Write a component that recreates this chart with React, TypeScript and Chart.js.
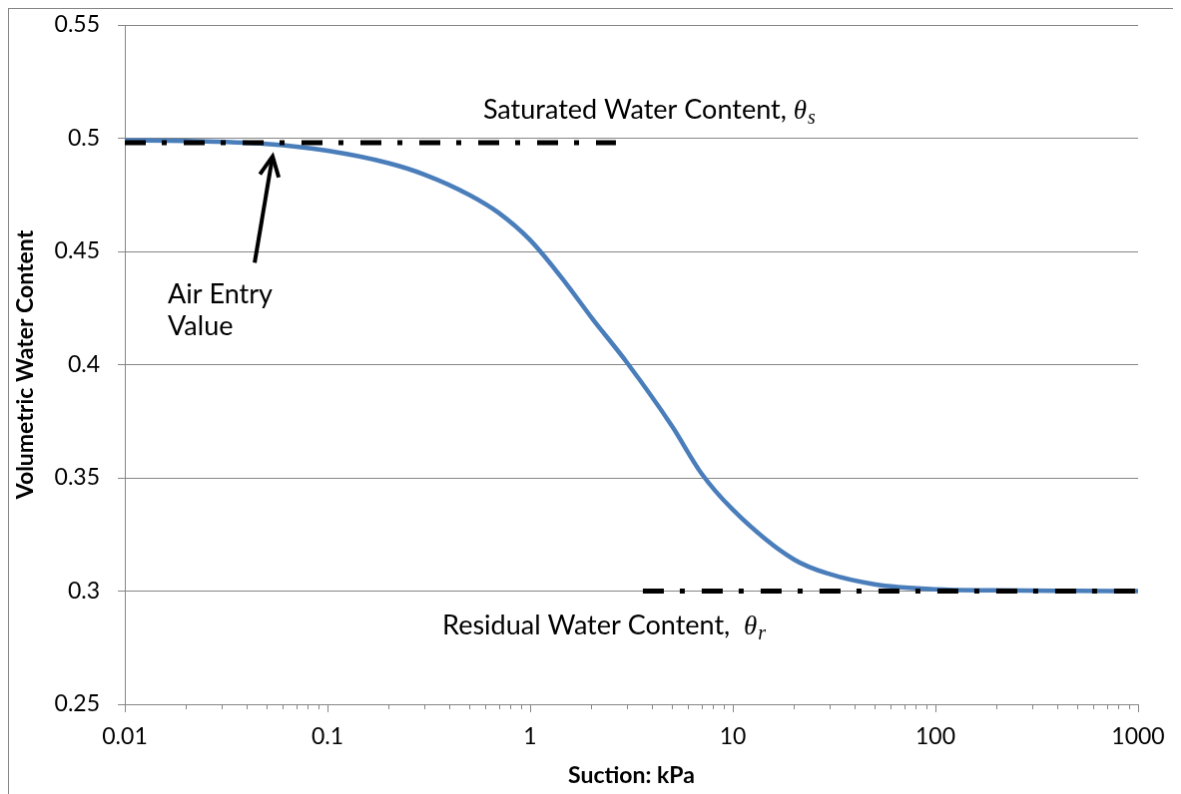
import React, { useEffect, useRef } from "react";
import { Chart, registerables } from "chart.js";

Chart.register(...registerables);

// ---- Data ----
const suction = [0.01, 0.02, 0.05, 0.1, 0.2, 0.3, 0.5, 0.7, 1, 1.5, 2, 3, 5, 7, 10, 20, 30, 50, 100, 200, 500, 1000];
const waterContent = [0.499, 0.4988, 0.4975, 0.4945, 0.489, 0.484, 0.475, 0.467, 0.455, 0.436, 0.421, 0.401, 0.373, 0.352, 0.336, 0.314, 0.3075, 0.303, 0.3008, 0.3003, 0.3001, 0.3];

const saturatedX = [0.01, 2.65];
const saturatedY = [0.498, 0.498];
const residualX = [3.6, 1000];
const residualY = [0.3, 0.3];

const xTickValues = [0.01, 0.1, 1, 10, 100, 1000];
const xTickLabels = ["0.01", "0.1", "1", "10", "100", "1000"];
const yTickValues = [0.25, 0.3, 0.35, 0.4, 0.45, 0.5, 0.55];
const yTickLabels = ["0.25", "0.3", "0.35", "0.4", "0.45", "0.5", "0.55"];

// annotation anchors (data coordinates)
const arrowTail = { x: 0.0437, y: 0.445 };
const arrowHead = { x: 0.0536, y: 0.492 };
const saturatedLabelPos = { x: 0.586, y: 0.5088 };
const residualLabelPos = { x: 0.369, y: 0.281 };
const airEntryPos = { x: 0.0163, y: 0.4273 };
const airEntryLine2 = { x: 0.0163, y: 0.4128 };

const GRAY = "#868686";
const BLUE = "#4a7ebb";
const FONT = "Lato, 'Open Sans', sans-serif";

function drawThetaLabel(ctx: CanvasRenderingContext2D, text: string, sub: string, x: number, y: number) {
  ctx.font = `27px ${FONT}`;
  ctx.fillStyle = "#000";
  ctx.textAlign = "left";
  ctx.textBaseline = "alphabetic";
  ctx.fillText(text, x, y);
  let cx = x + ctx.measureText(text).width;
  ctx.font = `italic 27px 'Liberation Serif', 'DejaVu Serif', serif`;
  ctx.fillText("θ", cx, y);
  cx += ctx.measureText("θ").width + 1;
  ctx.font = `italic 20px 'Liberation Serif', 'DejaVu Serif', serif`;
  ctx.fillText(sub, cx, y + 5);
}

const annotationPlugin = {
  id: "swccAnnotations",
  afterDraw(chart: any) {
    const { ctx, chartArea } = chart;
    const xs = chart.scales.x;
    const ys = chart.scales.y;
    ctx.save();
    // x-axis tick marks (major + minor log ticks)
    ctx.strokeStyle = GRAY;
    ctx.lineWidth = 1;
    for (let i = 0; i < xTickValues.length; i++) {
      const base = xTickValues[i];
      const px = Math.round(xs.getPixelForValue(base)) + 0.5;
      ctx.beginPath();
      ctx.moveTo(px, chartArea.bottom);
      ctx.lineTo(px, chartArea.bottom + 8);
      ctx.stroke();
      if (i < xTickValues.length - 1) {
        for (let m = 2; m <= 9; m++) {
          const mx = Math.round(xs.getPixelForValue(base * m)) + 0.5;
          ctx.beginPath();
          ctx.moveTo(mx, chartArea.bottom);
          ctx.lineTo(mx, chartArea.bottom + 5);
          ctx.stroke();
        }
      }
    }
    // arrow
    const tx = xs.getPixelForValue(arrowTail.x);
    const ty = ys.getPixelForValue(arrowTail.y);
    const hx = xs.getPixelForValue(arrowHead.x);
    const hy = ys.getPixelForValue(arrowHead.y);
    ctx.strokeStyle = "#000";
    ctx.lineWidth = 4;
    ctx.lineCap = "butt";
    ctx.beginPath();
    ctx.moveTo(tx, ty);
    ctx.lineTo(hx, hy);
    ctx.stroke();
    const ang = Math.atan2(hy - ty, hx - tx);
    const len = 22;
    const spread = 0.45;
    ctx.lineJoin = "miter";
    ctx.beginPath();
    ctx.moveTo(hx - len * Math.cos(ang - spread), hy - len * Math.sin(ang - spread));
    ctx.lineTo(hx, hy);
    ctx.lineTo(hx - len * Math.cos(ang + spread), hy - len * Math.sin(ang + spread));
    ctx.stroke();

    // text labels
    ctx.font = `27px ${FONT}`;
    ctx.fillStyle = "#000";
    ctx.textAlign = "left";
    ctx.textBaseline = "alphabetic";
    ctx.fillText("Air Entry", xs.getPixelForValue(airEntryPos.x), ys.getPixelForValue(airEntryPos.y));
    ctx.fillText("Value", xs.getPixelForValue(airEntryLine2.x), ys.getPixelForValue(airEntryLine2.y));

    drawThetaLabel(ctx, "Saturated Water Content, ", "s", xs.getPixelForValue(saturatedLabelPos.x), ys.getPixelForValue(saturatedLabelPos.y));
    drawThetaLabel(ctx, "Residual Water Content,  ", "r", xs.getPixelForValue(residualLabelPos.x), ys.getPixelForValue(residualLabelPos.y));
    ctx.restore();
  },
};

export default function App() {
  const canvasRef = useRef<HTMLCanvasElement | null>(null);

  useEffect(() => {
    const canvas = canvasRef.current;
    if (!canvas) return;
    const dashed = {
      borderColor: "#000",
      borderWidth: 5,
      borderDash: [21, 16, 5, 17],
      borderCapStyle: "butt" as const,
      pointRadius: 0,
      fill: false,
    };
    const chart = new Chart(canvas, {
      type: "line",
      data: {
        datasets: [
          { ...dashed, label: "Saturated", data: saturatedX.map((x, i) => ({ x, y: saturatedY[i] })) },
          { ...dashed, label: "Residual", data: residualX.map((x, i) => ({ x, y: residualY[i] })) },
          {
            label: "SWCC",
            data: suction.map((x, i) => ({ x, y: waterContent[i] })),
            borderColor: BLUE,
            borderWidth: 4.5,
            pointRadius: 0,
            cubicInterpolationMode: "monotone",
            fill: false,
          },
        ],
      },
      options: {
        animation: false,
        responsive: false,
        maintainAspectRatio: false,
        layout: { padding: { top: 16, right: 35, left: 0, bottom: 0 } },
        plugins: { legend: { display: false }, tooltip: { enabled: false } },
        scales: {
          x: {
            type: "logarithmic",
            min: 0.01,
            max: 1000,
            afterFit: (scale: any) => {
              scale.height = 93;
              scale.paddingLeft = 0;
              scale.paddingRight = 0;
            },
            afterBuildTicks: (scale: any) => {
              scale.ticks = xTickValues.map((v) => ({ value: v }));
            },
            grid: { drawOnChartArea: false, drawTicks: false },
            border: { display: true, color: GRAY, width: 1 },
            ticks: {
              autoSkip: false,
              maxRotation: 0,
              padding: 19,
              color: "#000",
              font: { family: FONT, size: 23 },
              callback: (_v: any, i: number) => xTickLabels[i],
            },
            title: {
              display: true,
              text: "Suction: kPa",
              color: "#000",
              font: { family: FONT, size: 23, weight: "bold" },
              padding: { top: 0, bottom: 8 },
            },
          },
          y: {
            type: "linear",
            min: 0.25,
            max: 0.55,
            afterFit: (scale: any) => {
              scale.width = 116;
              scale.paddingTop = 0;
              scale.paddingBottom = 0;
            },
            afterBuildTicks: (scale: any) => {
              scale.ticks = yTickValues.map((v) => ({ value: v }));
            },
            grid: { color: GRAY, lineWidth: 1, drawTicks: true, tickLength: 7, tickColor: GRAY },
            border: { display: true, color: GRAY, width: 1 },
            ticks: {
              padding: 18,
              color: "#000",
              font: { family: FONT, size: 23 },
              callback: (_v: any, i: number) => yTickLabels[i],
            },
            title: {
              display: true,
              text: "Volumetric Water Content",
              color: "#000",
              font: { family: FONT, size: 23, weight: "bold" },
              padding: { top: 3, bottom: 0 },
            },
          },
        },
      },
      plugins: [annotationPlugin],
    });
    return () => chart.destroy();
  }, []);

  return (
    <canvas
      ref={canvasRef}
      width={1166}
      height={790}
      style={{ display: "block", border: `1px solid ${GRAY}`, width: 1166, height: 790 }}
    />
  );
}
